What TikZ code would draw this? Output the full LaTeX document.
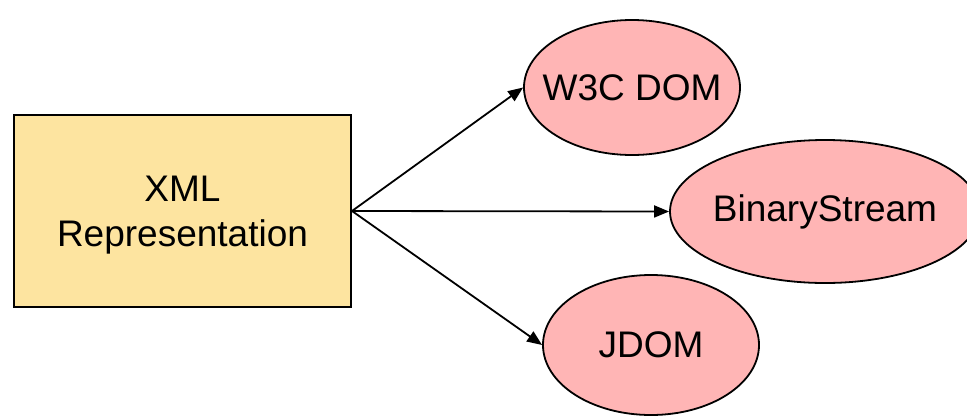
\documentclass[tikz,border=0pt]{standalone}
\usepackage{fontspec}
\setmainfont{Liberation Sans}
\usetikzlibrary{shapes.geometric,arrows.meta}
\definecolor{boxfill}{HTML}{FDE4A0}
\definecolor{ovalfill}{HTML}{FFB5B5}
\tikzset{
  repbox/.style={draw=black, line width=2pt, fill=boxfill, minimum width=337pt,
    minimum height=192pt, inner sep=0pt},
  boxtext/.style={inner sep=0pt, align=center, font=\fontsize{37}{45}\selectfont},
  target/.style={ellipse, draw=black, line width=1.8pt, fill=ovalfill, inner sep=0pt,
    font=\fontsize{37}{45}\selectfont},
  link/.style={line width=1.8pt, -{Triangle[length=15pt,width=12pt]}}
}
% zero-width label so the oval keeps its given size
\newcommand{\ovaltext}[1]{\makebox[0pt]{#1}}
\begin{document}
\begin{tikzpicture}[x=1pt,y=-1pt]
  \useasboundingbox (0,0) rectangle (967,416);
  \clip (0,0) rectangle (967,416);
  \node[repbox] (xml) at (182.5,211) {};
  \node[boxtext] (xmllabel) at (182.5,215) {XML\\Representation};
  \node[target, minimum width=216pt, minimum height=135pt] (w3c) at (632,87.5) {\ovaltext{W3C DOM}};
  \node[target, minimum width=310pt, minimum height=143pt] (bin) at (825,211.5) {\ovaltext{BinaryStream}};
  \node[target, minimum width=216pt, minimum height=140pt] (jdom) at (651,345) {\ovaltext{JDOM}};
  \draw[link] (xml.east) -- (w3c.west);
  \draw[link] (xml.east) -- (bin.west);
  \draw[link] (xml.east) -- (jdom.west);
\end{tikzpicture}
\end{document}
